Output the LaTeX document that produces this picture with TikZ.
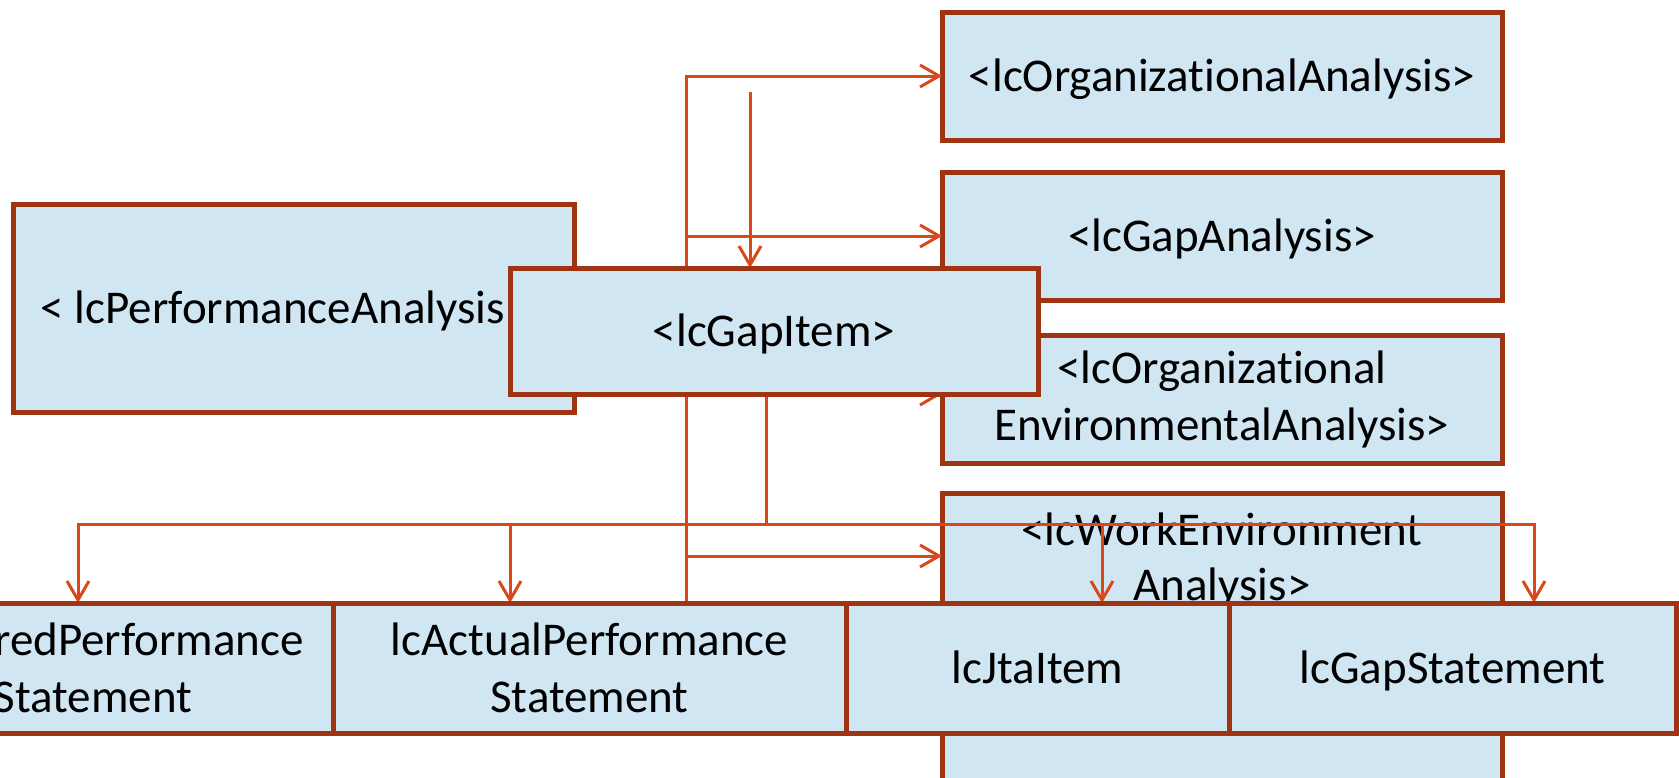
\documentclass[tikz,border=0pt]{standalone}
\usepackage{fontspec}
\setmainfont{Carlito}[Ligatures=CommonOff]
\usetikzlibrary{arrows.meta}
\definecolor{boxfill}{RGB}{208,230,243}
\definecolor{boxline}{RGB}{158,52,18}
\definecolor{wirecol}{RGB}{217,72,22}
\pgfdeclarelayer{back}
\pgfdeclarelayer{wires}
\pgfsetlayers{back,wires,main}
\begin{document}
\begin{tikzpicture}[x=1pt,y=-1pt,
  box/.style={draw=boxline, fill=boxfill, line width=5pt, rectangle,
    inner sep=0pt, outer sep=0pt, align=center,
    font=\fontsize{47}{57}\selectfont},
  oneline/.style={text height=35pt, text depth=5pt},
  lbl/.style={inner sep=0pt, font=\fontsize{47}{57}\selectfont},
  wire/.style={draw=wirecol, line width=3pt},
  >={Straight Barb[length=19pt,width=22pt]}]
\useasboundingbox (0,0) rectangle (1679,777);

% right-hand column and the performance analysis box (lowest layer)
\begin{pgfonlayer}{back}
\node[box, oneline, minimum width=560pt, minimum height=128pt] (orgA) at (1222,76) {<lcOrganizationalAnalysis>};
\node[box, oneline, minimum width=560pt, minimum height=128pt] (gapA) at (1222,236) {<lcGapAnalysis>};
\node[box, minimum width=560pt, minimum height=128pt] (orgEnv) at (1222,399) {<lcOrganizational\\EnvironmentalAnalysis>};
\node[box, minimum width=560pt, minimum height=420pt] (workEnv) at (1222,703) {};
\node[lbl, anchor=base] (workEnvA) at (1222,545) {<lcWorkEnvironment};
\node[lbl, anchor=base] (workEnvB) at (1222,600) {Analysis>};
\node[box, oneline, minimum width=561pt, minimum height=208pt] (perfA) at (293.5,308) {< lcPerformanceAnalysis>\hspace*{18pt}};
\end{pgfonlayer}

% gap item and the statement row (top layer)
\node[box, oneline, minimum width=528pt, minimum height=126pt] (gapItem) at (774,331) {<lcGapItem>};
\node[box, minimum width=480pt, minimum height=130pt] (desired) at (93,668) {lcDesiredPerformance\\Statement};
\node[box, minimum width=513pt, minimum height=130pt] (actual) at (589.5,668) {lcActualPerformance\\Statement};
\node[box, oneline, minimum width=383pt, minimum height=130pt] (jta) at (1037.5,668) {lcJtaItem};
\node[box, oneline, minimum width=447pt, minimum height=130pt] (gapSt) at (1452.5,668) {lcGapStatement};

% connectors (middle layer)
\begin{pgfonlayer}{wires}
\coordinate (trunk) at (686,76);
\coordinate (probe) at (750,92);
\coordinate (oeJoin) at (686,394);
\coordinate (weJoin) at (686,556);
\coordinate (tap) at (766,524);
\coordinate (busL) at (78,524);
\coordinate (busA) at (510,524);
\coordinate (busJ) at (1102,524);
\coordinate (busR) at (1534,524);

\draw[wire, ->] (trunk |- actual.north) -- (trunk) -- (orgA.west);
\draw[wire, ->] (trunk |- gapA.west) -- (gapA.west);
\draw[wire, ->] (oeJoin) -- (oeJoin -| orgEnv.west);
\draw[wire, ->] (weJoin) -- (weJoin -| workEnv.west);
\draw[wire, ->] (probe) -- (probe |- gapItem.north);

\draw[wire] (tap |- gapItem.south) -- (tap);
\draw[wire, <->] (busL |- desired.north) -- (busL) -- (busR) -- (busR |- gapSt.north);
\draw[wire, ->] (busA) -- (busA |- actual.north);
\draw[wire, ->] (busJ) -- (busJ |- jta.north);
\end{pgfonlayer}
\end{tikzpicture}
\end{document}
